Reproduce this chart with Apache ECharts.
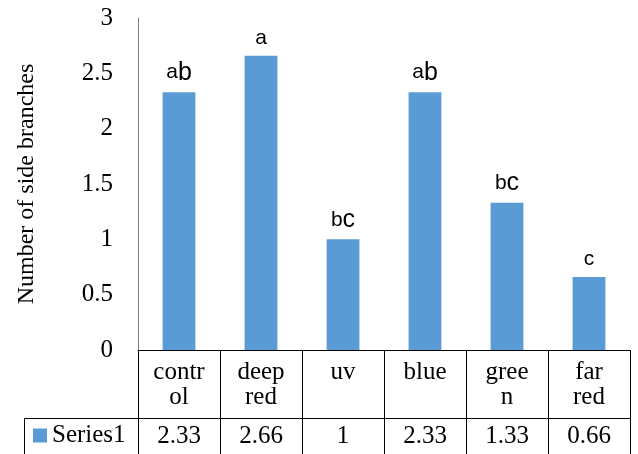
<!DOCTYPE html>
<html>
<head>
<meta charset="utf-8">
<script src="https://cdn.jsdelivr.net/npm/echarts@6/dist/echarts.min.js"></script>
<style>html,body{margin:0;padding:0;background:#fff;}#c{width:638px;height:454px;}</style>
</head>
<body>
<div id="c"></div>
<script>
const categories = ['control', 'deep red', 'uv', 'blue', 'green', 'far red'];
const categoryLabels = ['contr\nol', 'deep\nred', 'uv', 'blue', 'gree\nn', 'far\nred'];
const values = [2.33, 2.66, 1, 2.33, 1.33, 0.66];
const tableValues = ['2.33', '2.66', '1', '2.33', '1.33', '0.66'];
const letters = ['ab', 'a', 'bc', 'ab', 'bc', 'c'];
const yTicks = [0, 0.5, 1, 1.5, 2, 2.5, 3];
const seriesName = 'Series1';
const yTitle = 'Number of side branches';

const serif = '"Liberation Serif", "Times New Roman", serif';
const sans = '"Liberation Sans", Arial, sans-serif';
const chart = echarts.init(document.getElementById('c'));
chart.setOption({
  animation: false,
  backgroundColor: '#fff',
  grid: { left: 138, right: 8, top: 18, bottom: 104, containLabel: false },
  legend: {
    data: [seriesName], left: 33, top: 423, icon: 'rect', padding: 0,
    itemWidth: 14, itemHeight: 14, itemGap: 0,
    textStyle: { fontFamily: serif, fontSize: 25, color: '#000' }
  },
  graphic: [{
    type: 'polyline',
    shape: { points: [[24.5, 454], [24.5, 418.5], [138, 418.5]] },
    style: { stroke: '#000', lineWidth: 1, fill: null }
  }],
  xAxis: [{
    type: 'category', data: categories, position: 'bottom',
    axisLine: { show: true, lineStyle: { color: '#000', width: 1 } },
    axisTick: { show: true, length: 104, alignWithLabel: false, lineStyle: { color: '#000', width: 1 } },
    axisLabel: {
      interval: 0, margin: 10, fontFamily: serif, fontSize: 25, color: '#000', lineHeight: 25,
      formatter: (v, i) => categoryLabels[i]
    },
    splitLine: { show: false }
  }, {
    type: 'category', data: categories, position: 'bottom', offset: 68,
    axisLine: { show: true, lineStyle: { color: '#000', width: 1 } },
    axisTick: { show: true, length: 36, alignWithLabel: false, lineStyle: { color: '#000', width: 1 } },
    axisLabel: {
      interval: 0, margin: 6, fontFamily: serif, fontSize: 25, color: '#000',
      formatter: (v, i) => tableValues[i]
    },
    splitLine: { show: false }
  }],
  yAxis: {
    type: 'value', min: 0, max: 3, interval: 0.5,
    name: yTitle, nameLocation: 'middle', nameGap: 99, nameRotate: 90,
    nameTextStyle: { fontFamily: serif, fontSize: 24, color: '#000' },
    axisLine: { show: true, lineStyle: { color: '#7f7f7f', width: 1 } },
    axisTick: { show: false },
    splitLine: { show: false },
    axisLabel: {
      margin: 25, fontFamily: serif, fontSize: 25, color: '#000',
      formatter: v => yTicks.includes(v) ? String(v) : ''
    }
  },
  series: [{
    name: seriesName, type: 'bar', data: values, barWidth: '40%',
    itemStyle: { color: '#5B9BD5' },
    label: {
      show: true, position: 'top', distance: 7,
      formatter: p => {
        const s = letters[p.dataIndex];
        return s.length > 1 ? '{n|' + s[0] + '}{L|' + s.slice(1) + '}' : '{n|' + s + '}';
      },
      rich: {
        n: { fontFamily: sans, fontSize: 21, color: '#000' },
        L: { fontFamily: sans, fontSize: 25, color: '#000' }
      }
    }
  }]
});
</script>
</body>
</html>
